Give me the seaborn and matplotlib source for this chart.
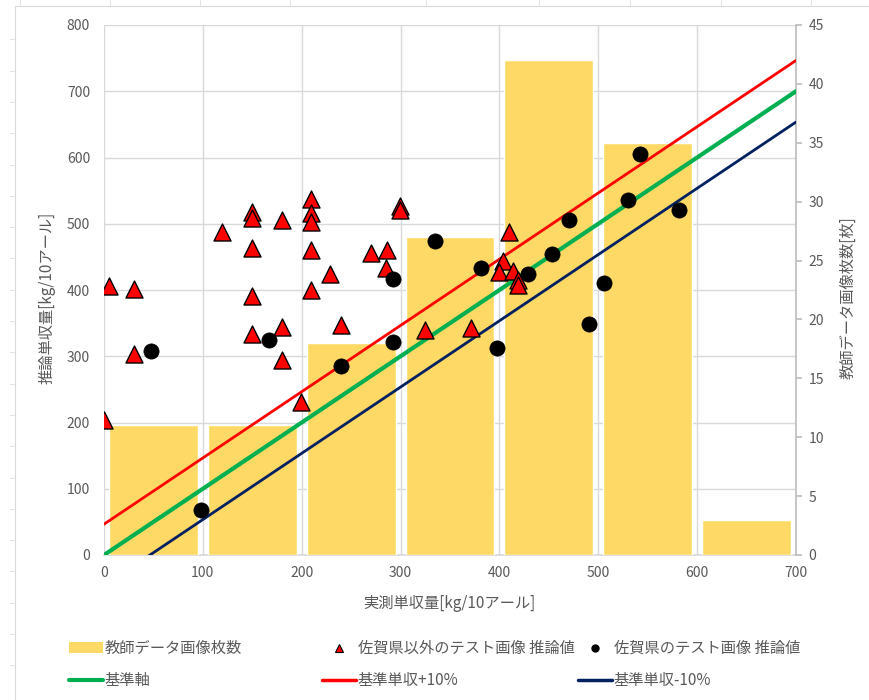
import matplotlib
matplotlib.use("Agg")
import matplotlib.pyplot as plt
from matplotlib.lines import Line2D
from matplotlib.patches import Patch
import numpy as np
import pandas as pd
import seaborn as sns

# Training image counts per 100 kg bin (right axis)
bin_centers = [50, 150, 250, 350, 450, 550, 650]
train_counts = [11, 11, 18, 27, 42, 35, 3]

# Test images from outside Saga: measured vs. inferred yield
other_actual = [0, 5, 30, 30, 119, 150, 150, 150, 150, 150, 180, 180, 180, 199,
                209, 209, 209, 209, 209, 229, 240, 270, 286, 285, 299, 299, 325,
                371, 410, 404, 400, 414, 419, 419]
other_pred = [204, 406, 401, 303, 488, 518, 508, 463, 391, 334, 506, 344, 294, 231,
              537, 516, 503, 460, 400, 424, 347, 456, 460, 433, 527, 521, 340,
              343, 488, 444, 427, 429, 415, 408]

# Test images from Saga: measured vs. inferred yield
saga_actual = [48, 98, 167, 240, 292, 292, 335, 381, 398, 429, 453, 470, 491, 506,
               530, 542, 582]
saga_pred = [308, 68, 325, 286, 322, 416, 474, 433, 313, 424, 454, 505, 349, 411,
             536, 605, 521]

# Reference line y = x and the +/-10% band around it
ref_x = np.array([0, 700])
band_offset = 46.5

x_ticks = [0, 100, 200, 300, 400, 500, 600, 700]
y_ticks = [0, 100, 200, 300, 400, 500, 600, 700, 800]
count_ticks = [0, 5, 10, 15, 20, 25, 30, 35, 40, 45]

labels = ["教師データ画像枚数", "佐賀県以外のテスト画像 推論値", "佐賀県のテスト画像 推論値",
          "基準軸", "基準単収+10%", "基準単収-10%"]

sns.set_theme(style="white")
plt.rcParams["font.family"] = ["Noto Sans CJK JP", "DejaVu Sans"]

BAR = "#FFD966"
GRID = "#D9D9D9"
TXT = "#595959"
RED = "#FF0000"
GREEN = "#00B050"
NAVY = "#002060"

W, H = 870, 700
fig = plt.figure(figsize=(W / 100, H / 100), dpi=100)
fig.patch.set_facecolor("white")


def px_line(xs, ys, **kw):
    """Thin line given in pixel coordinates from the top-left corner."""
    fig.add_artist(Line2D([x / W for x in xs], [1 - y / H for y in ys],
                          transform=fig.transFigure, **kw))


# spreadsheet cell border and cell ticks around the chart
px_line([15, W], [6, 6], color=GRID, lw=0.8)
px_line([15, 15], [6, H], color=GRID, lw=0.8)
for cx in [20, 110, 200, 290, 426, 539, 630, 721, 811]:
    px_line([cx, cx], [0, 6], color="#E3E3E3", lw=0.7)
for k in range(1, 22):
    cy = 8 + 31.3 * k
    px_line([10, 15], [cy, cy], color="#E3E3E3", lw=0.7)

rect = [104 / W, 145 / H, 692 / W, 530 / H]
ax = fig.add_axes(rect)
ax.set_xlim(0, 700)
ax.set_ylim(0, 800)
ax.set_xticks(x_ticks)
ax.set_yticks(y_ticks)
ax.grid(True, color=GRID, lw=1.0)
ax.set_axisbelow(True)
for s in ["left", "top", "right"]:
    ax.spines[s].set_visible(False)
ax.spines["bottom"].set_color(GRID)
ax.tick_params(axis="both", length=0, labelcolor=TXT, labelsize=10)
ax.tick_params(axis="y", pad=10)
ax.tick_params(axis="x", pad=8)

# bars on the secondary axis
ax2 = ax.twinx()
bars = pd.DataFrame({"center": bin_centers, "count": train_counts})
sns.barplot(data=bars, x="center", y="count", native_scale=True, width=0.9,
            color=BAR, saturation=1, ax=ax2, zorder=1)
ax2.set_xlim(0, 700)
ax2.set_ylim(0, 45)
ax2.set_yticks(count_ticks)
ax2.set_xlabel("")
ax2.set_ylabel("")
ax2.grid(False)
for s in ["left", "top", "bottom"]:
    ax2.spines[s].set_visible(False)
ax2.spines["right"].set_color("#BFBFBF")
ax2.tick_params(axis="y", length=4, color="#BFBFBF", labelcolor=TXT, labelsize=10,
                pad=5, direction="out")

# lines and markers on top
ax3 = ax.twinx()
ax3.set_ylim(0, 800)
ax3.set_xlim(0, 700)
ax3.axis("off")
sns.lineplot(x=ref_x, y=ref_x + band_offset, color=RED, lw=2.0, ax=ax3, zorder=2)
sns.lineplot(x=ref_x, y=ref_x - band_offset, color=NAVY, lw=2.0, ax=ax3, zorder=2)
sns.lineplot(x=ref_x, y=ref_x, color=GREEN, lw=3.0, ax=ax3, zorder=2)
sns.scatterplot(x=other_actual, y=other_pred, marker="^", s=150, color=RED,
                edgecolor="black", linewidth=1.0, ax=ax3, zorder=3)
sns.scatterplot(x=saga_actual, y=saga_pred, marker="o", s=120, color="black",
                edgecolor="black", linewidth=0.5, ax=ax3, zorder=4)
ax3.set_ylim(0, 800)
ax3.set_xlim(0, 700)

# axis titles
fig.text(449 / W, 1 - 603 / H, "実測単収量[kg/10アール]", ha="center", va="center",
         fontsize=11, color=TXT)
fig.text(47 / W, 1 - 298 / H, "推論単収量[kg/10アール]", ha="center", va="center",
         rotation=90, fontsize=11, color=TXT)
fig.text(848 / W, 1 - 298 / H, "教師データ画像枚数[枚]", ha="center", va="center",
         rotation=90, fontsize=11, color=TXT)

# legend, laid out in three fixed columns
h_bar = Patch(facecolor=BAR, edgecolor="none")
h_tri = Line2D([], [], ls="none", marker="^", ms=6, mfc=RED, mec="black", mew=0.8)
h_dot = Line2D([], [], ls="none", marker="o", ms=5, mfc="black", mec="black")
h_green = Line2D([], [], color=GREEN, lw=3)
h_red = Line2D([], [], color=RED, lw=2.5)
h_navy = Line2D([], [], color=NAVY, lw=2.5)
columns = [([h_bar, h_green], [labels[0], labels[3]], 69),
           ([h_tri, h_red], [labels[1], labels[4]], 322),
           ([h_dot, h_navy], [labels[2], labels[5]], 578)]
for handles, labs, x0 in columns:
    leg = fig.legend(handles, labs, loc="upper left",
                     bbox_to_anchor=(x0 / W, 1 - 640 / H), frameon=False,
                     fontsize=11, handlelength=2.2, handletextpad=0.15,
                     labelspacing=1.0, borderpad=0, borderaxespad=0)
    for t in leg.get_texts():
        t.set_color(TXT)

fig.savefig("out.png", dpi=100, facecolor="white")
